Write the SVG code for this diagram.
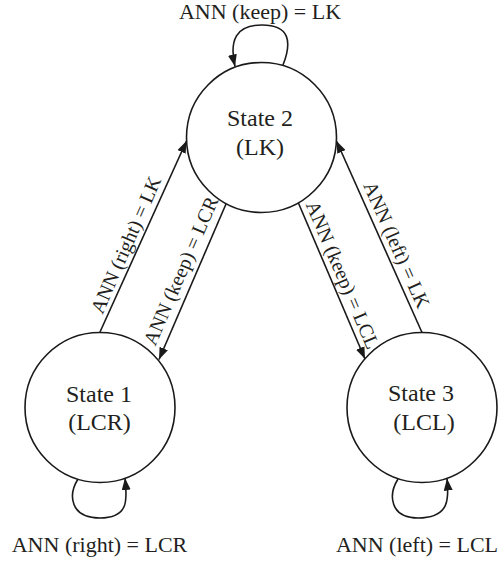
<svg xmlns="http://www.w3.org/2000/svg" width="504" height="563" viewBox="0 0 504 563">
  <defs>
    <marker id="arrow" viewBox="0 0 12 9" refX="12" refY="4.5" markerWidth="12" markerHeight="9" markerUnits="userSpaceOnUse" orient="auto">
      <path d="M0,0 L12,4.5 L0,9 z" fill="#1a1a1a"/>
    </marker>
    <style>
      .state { fill: #ffffff; stroke: #1a1a1a; stroke-width: 1.6; }
      .edge { fill: none; stroke: #1a1a1a; stroke-width: 1.6; marker-end: url(#arrow); }
      .name { font-family: "Liberation Serif", "Times New Roman", serif; font-size: 24px; fill: #231f20; text-anchor: middle; }
      .lbl { font-family: "Liberation Serif", "Times New Roman", serif; font-size: 22px; fill: #231f20; text-anchor: middle; }
      .elbl { font-family: "Liberation Serif", "Times New Roman", serif; font-size: 20px; fill: #231f20; text-anchor: middle; }
    </style>
  </defs>

  <rect width="504" height="563" fill="#ffffff"/>

  <!-- transitions -->
  <g id="connectors">
    <!-- self loops -->
    <path class="edge" d="M283,65 C292,42 290,25 262,25 C236,25 229,40 235,66.5"/>
    <path class="edge" d="M78,479 C68,495 70,518 100,518 C130,518 127,498 125,478"/>
    <path class="edge" d="M398,479 C388,495 390,518 418,518 C450,518 449,498 447,478.5"/>
    <!-- State 1 -> State 2 -->
    <path class="edge" d="M100,332 L186.5,141"/>
    <!-- State 2 -> State 1 -->
    <path class="edge" d="M226,204 L159,359.5"/>
    <!-- State 2 -> State 3 -->
    <path class="edge" d="M298,202 L365,359"/>
    <!-- State 3 -> State 2 -->
    <path class="edge" d="M422,332.5 L336.5,141"/>

    <!-- transition labels -->
    <text class="lbl" x="260" y="19">ANN (keep) = LK</text>
    <text class="lbl" x="99.5" y="552">ANN (right) = LCR</text>
    <text class="lbl" x="417" y="552">ANN (left) = LCL</text>
    <text class="elbl" transform="translate(132,247.5) rotate(-66.3)">ANN (right) = LK</text>
    <text class="elbl" transform="translate(187,273.5) rotate(-66.6)">ANN (keep) = LCR</text>
    <text class="elbl" transform="translate(336.5,277.5) rotate(67)">ANN (keep) = LCL</text>
    <text class="elbl" transform="translate(390.5,247.5) rotate(66.2)">ANN (left) = LK</text>
  </g>

  <g id="state2">
    <circle class="state" cx="261.5" cy="137.5" r="75"/>
    <text class="name" x="260" y="126">State 2</text>
    <text class="name" x="260" y="155">(LK)</text>
  </g>

  <g id="state1">
    <circle class="state" cx="100" cy="407.5" r="75"/>
    <text class="name" x="99" y="401.5">State 1</text>
    <text class="name" x="99.5" y="429.5">(LCR)</text>
  </g>

  <g id="state3">
    <circle class="state" cx="422" cy="407.5" r="75"/>
    <text class="name" x="421" y="401">State 3</text>
    <text class="name" x="424" y="429.5">(LCL)</text>
  </g>
</svg>
